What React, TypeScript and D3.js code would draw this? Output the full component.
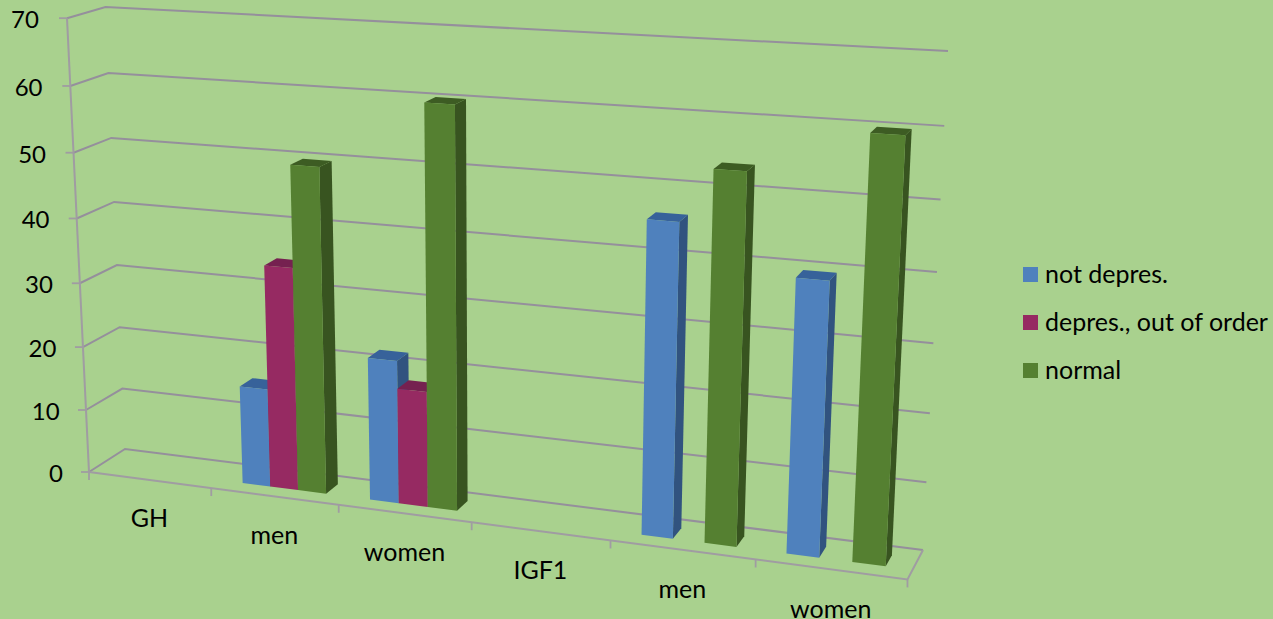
import React from "react";
import * as d3 from "d3";

const categories = ["GH", "men", "women", "IGF1", "men", "women"];
const seriesNames = ["not depres.", "depres., out of order", "normal"];
const notDepressed = [null, 15.3, 21.9, null, 46, 39.6];
const depressedOutOfOrder = [null, 34.4, 17.7, null, null, null];
const normal = [null, 49.8, 60.2, null, 53.7, 60];
const valueTicks = [0, 10, 20, 30, 40, 50, 60, 70];

const WIDTH = 1273;
const HEIGHT = 619;

type Pt = [number, number];
type V3 = [number, number, number];

// Corners of the 3D plot box as seen by the camera.
const backTopLeft: Pt = [105.5, 7];
const backTopRight: Pt = [948, 51];
const backBottomRight: Pt = [923, 550];
const backBottomLeft: Pt = [125, 449];
const frontBottomLeft: Pt = [89, 472];
const frontBottomRight: Pt = [907, 579];
const frontTopLeft: Pt = [65, 18];

const cross = (p: V3, q: V3): V3 => [
  p[1] * q[2] - p[2] * q[1],
  p[2] * q[0] - p[0] * q[2],
  p[0] * q[1] - p[1] * q[0],
];
const dot = (p: V3, q: V3) => p[0] * q[0] + p[1] * q[1] + p[2] * q[2];
const hom = (p: Pt): V3 => [p[0], p[1], 1];

// Projective camera: unit box (x along categories, y up, z into the page) to screen.
// The back wall fixes the x and y directions; the front corners fix the box depth,
// with the value axis counting for more than the floor's front edge.
function buildCamera() {
  const [x0, y0] = backBottomLeft;
  const [x1, y1] = backBottomRight;
  const [x2, y2] = backTopRight;
  const [x3, y3] = backTopLeft;
  const dx1 = x1 - x2, dx2 = x3 - x2, sx = x0 - x1 + x2 - x3;
  const dy1 = y1 - y2, dy2 = y3 - y2, sy = y0 - y1 + y2 - y3;
  const den = dx1 * dy2 - dx2 * dy1;
  const g = (sx * dy2 - dx2 * sy) / den;
  const h = (dx1 * sy - sx * dy1) / den;
  const px: V3 = [x1 - x0 + g * x1, y1 - y0 + g * y1, g];
  const py: V3 = [x3 - x0 + h * x3, y3 - y0 + h * y3, h];
  const back: V3 = [x0, y0, 1];
  const A = hom(frontBottomLeft);
  let num = 0;
  let sq = 0;
  for (const [axis, target, weight] of [
    [py, hom(frontTopLeft), 1],
    [px, hom(frontBottomRight), 0.02],
  ] as [V3, V3, number][]) {
    const l = cross(axis, target);
    const r = cross(A, target);
    num += -weight * dot(l, r);
    sq += weight * dot(r, r);
  }
  const a = num / sq;
  const po: V3 = [a * A[0], a * A[1], a * A[2]];
  const pz: V3 = [back[0] - po[0], back[1] - po[1], back[2] - po[2]];
  return (x: number, y: number, z: number): Pt => {
    const X = px[0] * x + py[0] * y + pz[0] * z + po[0];
    const Y = px[1] * x + py[1] * y + pz[1] * z + po[1];
    const W = px[2] * x + py[2] * y + pz[2] * z + po[2];
    return [X / W, Y / W];
  };
}

const project = buildCamera();
const xScale = d3.scaleLinear().domain([0, categories.length]).range([0, 1]);
const yScale = d3.scaleLinear().domain([0, 70]).range([0, 1]);
const pt = (cat: number, value: number, z: number) => project(xScale(cat), yScale(value), z);
const path = d3.line<Pt>();
const poly = (pts: Pt[]) => (path(pts) as string) + "Z";

const BAR_START = 0.165;
const BAR_WIDTH = 0.22;
const DEPTH_FRONT = 0.32;
const DEPTH_BACK = 0.7;

const GRID = "#958f9c";
const AXIS = "#a09ca2";

const palette = [
  { front: "#4f81bd", side: "#31537f", top: "#37629a" },
  { front: "#962a62", side: "#6f1f49", top: "#752150" },
  { front: "#558031", side: "#385420", top: "#3d5c23" },
];
const seriesValues = [notDepressed, depressedOutOfOrder, normal];

const FONT = "Lato, 'Open Sans', sans-serif";

function Bars() {
  const out: React.ReactNode[] = [];
  categories.forEach((_, c) => {
    seriesValues.forEach((vals, s) => {
      const v = vals[c];
      if (v == null) return;
      const x0 = c + BAR_START + s * BAR_WIDTH;
      const x1 = x0 + BAR_WIDTH;
      const z0 = DEPTH_FRONT;
      const z1 = DEPTH_BACK;
      const col = palette[s];
      out.push(
        <g key={`${c}-${s}`}>
          <path d={poly([pt(x1, 0, z0), pt(x1, 0, z1), pt(x1, v, z1), pt(x1, v, z0)])} fill={col.side} />
          <path d={poly([pt(x0, v, z0), pt(x1, v, z0), pt(x1, v, z1), pt(x0, v, z1)])} fill={col.top} />
          <path d={poly([pt(x0, 0, z0), pt(x1, 0, z0), pt(x1, v, z0), pt(x0, v, z0)])} fill={col.front} />
        </g>
      );
    });
  });
  return <g>{out}</g>;
}

export default function App() {
  const nCat = categories.length;
  const floor = [pt(0, 0, 0), pt(nCat, 0, 0), pt(nCat, 0, 1)];
  return (
    <svg
      width={WIDTH}
      height={HEIGHT}
      viewBox={`0 0 ${WIDTH} ${HEIGHT}`}
      style={{ position: "absolute", left: 0, top: 0, display: "block" }}
      fontFamily={FONT}
    >
      <rect width={WIDTH} height={HEIGHT} fill="#a9d18e" />
      {/* Gridlines run along the side wall and across the back wall */}
      {valueTicks.map((t) => (
        <path
          key={t}
          d={path([pt(0, t, 0), pt(0, t, 1), pt(nCat, t, 1)]) as string}
          fill="none"
          stroke={GRID}
          strokeWidth={2}
        />
      ))}
      {/* Floor edges, value axis and tick marks */}
      <path d={path(floor) as string} fill="none" stroke={AXIS} strokeWidth={2} />
      <path d={path([pt(0, 0, 0), pt(0, 70, 0)]) as string} fill="none" stroke={AXIS} strokeWidth={2} />
      {valueTicks.map((t) => {
        const [x, y] = pt(0, t, 0);
        return (
          <g key={t}>
            <line x1={x - 8} x2={x} y1={y} y2={y} stroke={AXIS} strokeWidth={1.8} />
            <text x={x - 26 - t * 0.03} y={y + 10} textAnchor="end" fontSize={24} fill="#000">
              {t}
            </text>
          </g>
        );
      })}
      {d3.range(nCat + 1).map((i) => {
        const [x, y] = pt(i, 0, 0);
        return <line key={i} x1={x} x2={x} y1={y} y2={y + 8} stroke={AXIS} strokeWidth={1.8} />;
      })}
      <Bars />
      {categories.map((name, i) => {
        const [x, y] = pt(i + 0.5, 0, 0);
        return (
          <text key={i} x={x} y={y + 47 + i * 0.4} textAnchor="middle" fontSize={25} fill="#000">
            {name}
          </text>
        );
      })}
      {seriesNames.map((name, s) => {
        const y = 274.5 + s * 48;
        return (
          <g key={name}>
            <rect x={1023} y={y - 7.5} width={15} height={15} fill={palette[s].front} />
            <text x={1045} y={y + 8.5} fontSize={25} fill="#000">
              {name}
            </text>
          </g>
        );
      })}
    </svg>
  );
}
